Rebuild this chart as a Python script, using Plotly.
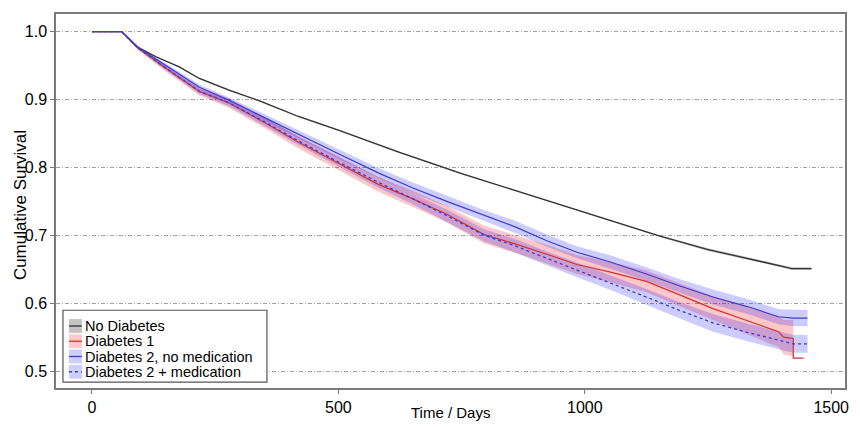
import plotly.graph_objects as go

# ---------------- data ----------------
# No Diabetes
t_nd = [0, 60, 93, 130, 177, 218, 278, 340, 419, 500, 621, 750, 850, 928, 1024, 1151, 1250, 1330, 1393, 1420, 1460]
s_nd = [1.0, 1.0, 0.977, 0.963, 0.948, 0.931, 0.914, 0.898, 0.875, 0.855, 0.823, 0.791, 0.768, 0.750, 0.728, 0.699, 0.679, 0.666, 0.656, 0.651, 0.651]
up_nd = [1.0, 1.0, 0.978, 0.964, 0.949, 0.932, 0.915, 0.899, 0.876, 0.856, 0.824, 0.792, 0.769, 0.751, 0.729, 0.700, 0.681, 0.668, 0.658, 0.653, 0.653]
lo_nd = [1.0, 1.0, 0.976, 0.962, 0.947, 0.930, 0.913, 0.897, 0.874, 0.854, 0.822, 0.790, 0.767, 0.749, 0.727, 0.698, 0.677, 0.664, 0.654, 0.649, 0.649]

# Diabetes 1
t_d1 = [0, 60, 93, 150, 218, 278, 350, 419, 500, 581, 650, 720, 796, 860, 923, 984, 1050, 1125, 1190, 1260, 1330, 1393, 1403, 1423, 1423, 1444]
s_d1 = [1.0, 1.0, 0.976, 0.946, 0.912, 0.895, 0.866, 0.837, 0.806, 0.775, 0.754, 0.731, 0.701, 0.687, 0.672, 0.657, 0.646, 0.632, 0.613, 0.592, 0.574, 0.558, 0.550, 0.548, 0.519, 0.519]
t_d1_band = [0, 60, 93, 150, 218, 278, 350, 419, 500, 581, 650, 720, 796, 860, 923, 984, 1050, 1125, 1190, 1260, 1330, 1393, 1403, 1423]
up_d1 = [1.0, 1.0, 0.979, 0.951, 0.918, 0.902, 0.874, 0.846, 0.816, 0.786, 0.766, 0.743, 0.714, 0.700, 0.686, 0.671, 0.661, 0.648, 0.630, 0.610, 0.594, 0.581, 0.575, 0.575]
lo_d1 = [1.0, 1.0, 0.973, 0.941, 0.906, 0.888, 0.858, 0.828, 0.796, 0.764, 0.742, 0.719, 0.688, 0.674, 0.658, 0.643, 0.631, 0.616, 0.596, 0.574, 0.554, 0.535, 0.525, 0.521]

# Diabetes 2 (shared time grid)
t_d2 = [0, 60, 93, 150, 218, 278, 350, 419, 500, 581, 650, 720, 796, 860, 923, 984, 1050, 1125, 1190, 1260, 1330, 1393, 1423, 1452]
# Diabetes 2, no medication
s_d2 = [1.0, 1.0, 0.977, 0.950, 0.918, 0.899, 0.873, 0.849, 0.820, 0.792, 0.770, 0.750, 0.729, 0.712, 0.692, 0.675, 0.661, 0.643, 0.626, 0.609, 0.595, 0.580, 0.578, 0.578]
up_d2 = [1.0, 1.0, 0.979, 0.953, 0.922, 0.903, 0.878, 0.855, 0.827, 0.799, 0.778, 0.758, 0.737, 0.721, 0.701, 0.684, 0.671, 0.653, 0.636, 0.620, 0.606, 0.591, 0.590, 0.590]
lo_d2 = [1.0, 1.0, 0.975, 0.947, 0.914, 0.895, 0.868, 0.843, 0.813, 0.785, 0.762, 0.742, 0.721, 0.703, 0.683, 0.666, 0.651, 0.633, 0.616, 0.598, 0.584, 0.569, 0.566, 0.566]
# Diabetes 2 + medication
s_d2m = [1.0, 1.0, 0.976, 0.946, 0.912, 0.895, 0.867, 0.839, 0.808, 0.778, 0.754, 0.729, 0.700, 0.684, 0.666, 0.649, 0.631, 0.609, 0.590, 0.571, 0.557, 0.545, 0.540, 0.540]
up_d2m = [1.0, 1.0, 0.978, 0.949, 0.916, 0.900, 0.873, 0.845, 0.815, 0.786, 0.762, 0.738, 0.709, 0.694, 0.676, 0.660, 0.642, 0.621, 0.602, 0.584, 0.570, 0.558, 0.553, 0.553]
lo_d2m = [1.0, 1.0, 0.974, 0.943, 0.908, 0.890, 0.861, 0.833, 0.801, 0.770, 0.746, 0.720, 0.691, 0.674, 0.656, 0.638, 0.620, 0.597, 0.578, 0.558, 0.544, 0.532, 0.527, 0.527]

legend_labels = ["No Diabetes", "Diabetes 1", "Diabetes 2, no medication", "Diabetes 2 + medication"]
x_ticks = [0, 500, 1000, 1500]
y_ticks = [0.5, 0.6, 0.7, 0.8, 0.9, 1.0]
y_ticktext = ["0.5", "0.6", "0.7", "0.8", "0.9", "1.0"]

# ---------------- styles ----------------
C_BLACK = "#333333"
C_RED = "rgb(212,48,48)"
C_BLUE = "rgb(60,60,205)"
F_GRAY = "rgba(120,120,120,0.45)"
F_RED = "rgba(255,0,0,0.22)"
F_BLUE = "rgba(0,0,255,0.20)"
FONT = "Liberation Sans, Arial, sans-serif"

fig = go.Figure()


def band(t, lo, up, color):
    fig.add_trace(go.Scatter(x=list(t) + list(t)[::-1], y=list(up) + list(lo)[::-1],
                             fill="toself", fillcolor=color, mode="lines",
                             line=dict(width=0), hoverinfo="skip", showlegend=False))


band(t_nd, lo_nd, up_nd, F_GRAY)
band(t_d1_band, lo_d1, up_d1, F_RED)
band(t_d2, lo_d2, up_d2, F_BLUE)
band(t_d2, lo_d2m, up_d2m, F_BLUE)

fig.add_trace(go.Scatter(x=t_nd, y=s_nd, mode="lines", line=dict(color=C_BLACK, width=1.3), showlegend=False))
fig.add_trace(go.Scatter(x=t_d1, y=s_d1, mode="lines", line=dict(color=C_RED, width=1.2), showlegend=False))
fig.add_trace(go.Scatter(x=t_d2, y=s_d2, mode="lines", line=dict(color=C_BLUE, width=1.2), showlegend=False))
fig.add_trace(go.Scatter(x=t_d2, y=s_d2m, mode="lines", line=dict(color=C_BLUE, width=1.3, dash="dot"), showlegend=False))

# ---------------- manual legend (pixel positions -> paper coords) ----------------
L, R, T, B = 56, 849, 14, 394


def px(x):
    return (x - L) / (R - L)


def py(y):
    return (B - y) / (B - T)


shapes = []
shapes.append(dict(type="rect", xref="paper", yref="paper", x0=px(63), x1=px(268), y0=py(388), y1=py(315),
                   line=dict(color="#555555", width=1.2), fillcolor="white", layer="above"))
icon_fills = ["rgb(195,195,195)", "rgb(255,200,200)", "rgb(205,205,255)", "rgb(205,205,255)"]
icon_lines = [dict(color=C_BLACK, width=1.3), dict(color=C_RED, width=1.3),
              dict(color=C_BLUE, width=1.3), dict(color=C_BLUE, width=1.3, dash="dot")]
annotations = []
for i, lab in enumerate(legend_labels):
    cy = 331 + 15.5 * i
    shapes.append(dict(type="rect", xref="paper", yref="paper", x0=px(69), x1=px(82), y0=py(cy + 7), y1=py(cy - 7),
                       line=dict(width=0), fillcolor=icon_fills[i], layer="above"))
    shapes.append(dict(type="line", xref="paper", yref="paper", x0=px(69), x1=px(82), y0=py(cy), y1=py(cy),
                       line=icon_lines[i], layer="above"))
    annotations.append(dict(xref="paper", yref="paper", x=px(83), y=py(cy), xanchor="left", yanchor="middle",
                            text=lab, showarrow=False, font=dict(family=FONT, size=14.5, color="black")))

annotations.append(dict(xref="paper", yref="paper", x=px(452), y=py(419), xanchor="center", yanchor="middle",
                        text="Time / Days", showarrow=False, font=dict(family=FONT, size=15, color="black")))
annotations.append(dict(xref="paper", yref="paper", x=px(21), y=py(208), xanchor="center", yanchor="middle",
                        text="Cumulative Survival", textangle=-90, showarrow=False,
                        font=dict(family=FONT, size=17, color="black")))

fig.update_layout(
    width=860, height=427,
    margin=dict(l=L, r=860 - R, t=T, b=427 - B),
    paper_bgcolor="white", plot_bgcolor="white",
    font=dict(family=FONT, size=16, color="black"),
    showlegend=False,
    shapes=shapes, annotations=annotations,
    xaxis=dict(range=[-73, 1528], tickvals=x_ticks, showgrid=False, zeroline=False,
               ticks="outside", ticklen=4, tickcolor="#777777", showline=True, mirror=True,
               linecolor="#7a7a7a", linewidth=1.5, tickfont=dict(size=16)),
    yaxis=dict(range=[0.475, 1.026], tickvals=y_ticks, ticktext=y_ticktext, showgrid=True,
               gridcolor="#a0a0a0", gridwidth=1, griddash="4px,2px,1px,2px", zeroline=False,
               ticks="outside", ticklen=4, tickcolor="#777777", showline=True, mirror=True,
               linecolor="#7a7a7a", linewidth=1.5, tickfont=dict(size=16)),
)

fig.write_html("out.html", config={"displayModeBar": False},
               post_script="document.body.style.margin='0px';document.body.style.overflow='hidden';")
